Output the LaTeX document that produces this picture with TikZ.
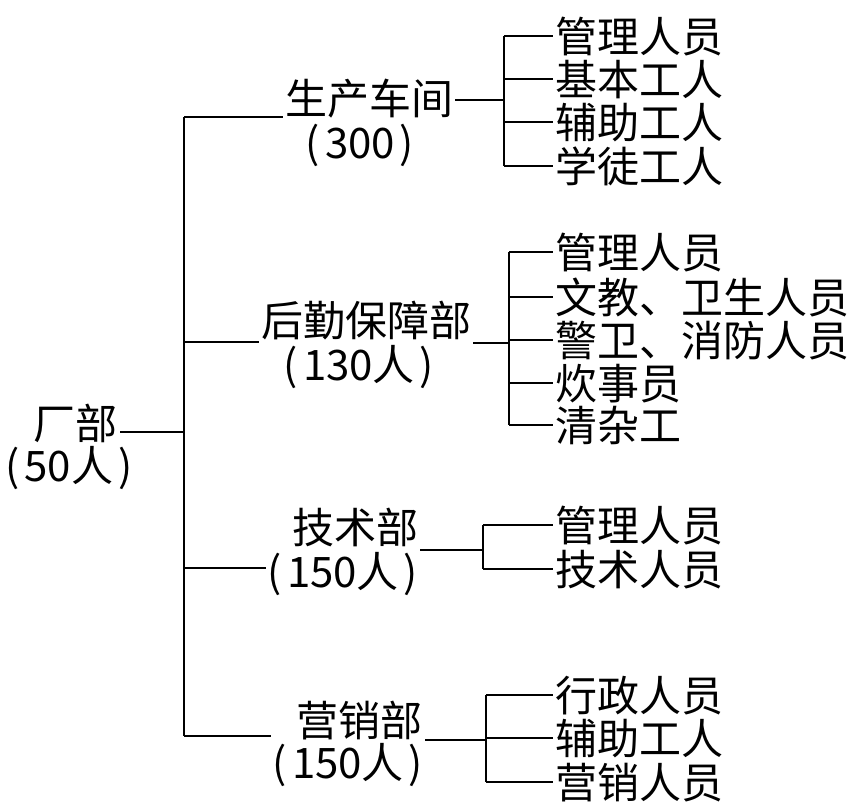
\documentclass[tikz,border=0pt]{standalone}
\usepackage{fontspec}
\newfontfamily\cjk{Noto Sans CJK SC}
\newcommand{\cnt}[1]{(\kern5pt#1\kern5pt)}
\begin{document}
\begin{tikzpicture}[x=1pt,y=-1pt,
    lbl/.style={font=\cjk\fontsize{42}{44}\selectfont, inner sep=2pt, text height=37pt, text depth=5pt},
    item/.style={lbl, anchor=west},
    conn/.style={line width=1.9pt}]
	\useasboundingbox (0,0) rectangle (863,807);
	% factory head
	\node[lbl] (cb) at (76,423) {厂部};
	\node[lbl] (cbn) at (69,465) {\cnt{50人}};
	% departments
	\node[lbl] (sc) at (369,98) {生产车间};
	\node[lbl] (scn) at (360,142) {\cnt{300}};
	\node[lbl] (hq) at (366,320) {后勤保障部};
	\node[lbl] (hqn) at (359,364) {\cnt{130人}};
	\node[lbl] (js) at (355,527) {技术部};
	\node[lbl] (jsn) at (343,571) {\cnt{150人}};
	\node[lbl] (yx) at (359,720) {营销部};
	\node[lbl] (yxn) at (348,762) {\cnt{150人}};
	% staff
	\node[item] (sc1) at (553,36) {管理人员};
	\node[item] (sc2) at (553,79) {基本工人};
	\node[item] (sc3) at (553,122) {辅助工人};
	\node[item] (sc4) at (553,166) {学徒工人};
	\node[item] (hq1) at (553,252) {管理人员};
	\node[item] (hq2) at (553,297) {文教、卫生人员};
	\node[item] (hq3) at (553,340) {警卫、消防人员};
	\node[item] (hq4) at (553,383) {炊事员};
	\node[item] (hq5) at (553,425) {清杂工};
	\node[item] (js1) at (553,525) {管理人员};
	\node[item] (js2) at (553,569) {技术人员};
	\node[item] (yx1) at (553,695) {行政人员};
	\node[item] (yx2) at (553,738) {辅助工人};
	\node[item] (yx3) at (553,782) {营销人员};
	% trunk
	\coordinate (t0) at (184,432);
	\coordinate (t1) at (184,117);
	\coordinate (t2) at (184,342);
	\coordinate (t3) at (184,568);
	\coordinate (t4) at (184,736);
	\draw[conn] (t1) -- (t4);
	\draw[conn] (cb.east |- t0) -- (t0);
	\draw[conn] (t1) -- (t1 -| sc.west);
	\draw[conn] (t2) -- (t2 -| hq.west);
	\draw[conn] (t3) -- (t3 -| jsn.west);
	\draw[conn] (t4) -- (t4 -| yxn.west);
	% brackets
	\coordinate (b1) at (504,100);
	\coordinate (b2) at (509,343);
	\coordinate (b3) at (483,550);
	\coordinate (b4) at (486,740);
	\draw[conn] (sc.east |- b1) -- (b1);
	\draw[conn] (hq.east |- b2) -- (b2);
	\draw[conn] (jsn.east |- b3) -- (b3);
	\draw[conn] (yxn.east |- b4) -- (b4);
	\draw[conn] (sc1.west -| b1) -- (sc4.west -| b1);
	\draw[conn] (hq1.west -| b2) -- (hq5.west -| b2);
	\draw[conn] (js1.west -| b3) -- (js2.west -| b3);
	\draw[conn] (yx1.west -| b4) -- (yx3.west -| b4);
	\foreach \n in {sc1,sc2,sc3,sc4} \draw[conn] (\n.west -| b1) -- (\n.west);
	\foreach \n in {hq1,hq2,hq3,hq4,hq5} \draw[conn] (\n.west -| b2) -- (\n.west);
	\foreach \n in {js1,js2} \draw[conn] (\n.west -| b3) -- (\n.west);
	\foreach \n in {yx1,yx2,yx3} \draw[conn] (\n.west -| b4) -- (\n.west);
\end{tikzpicture}
\end{document}
